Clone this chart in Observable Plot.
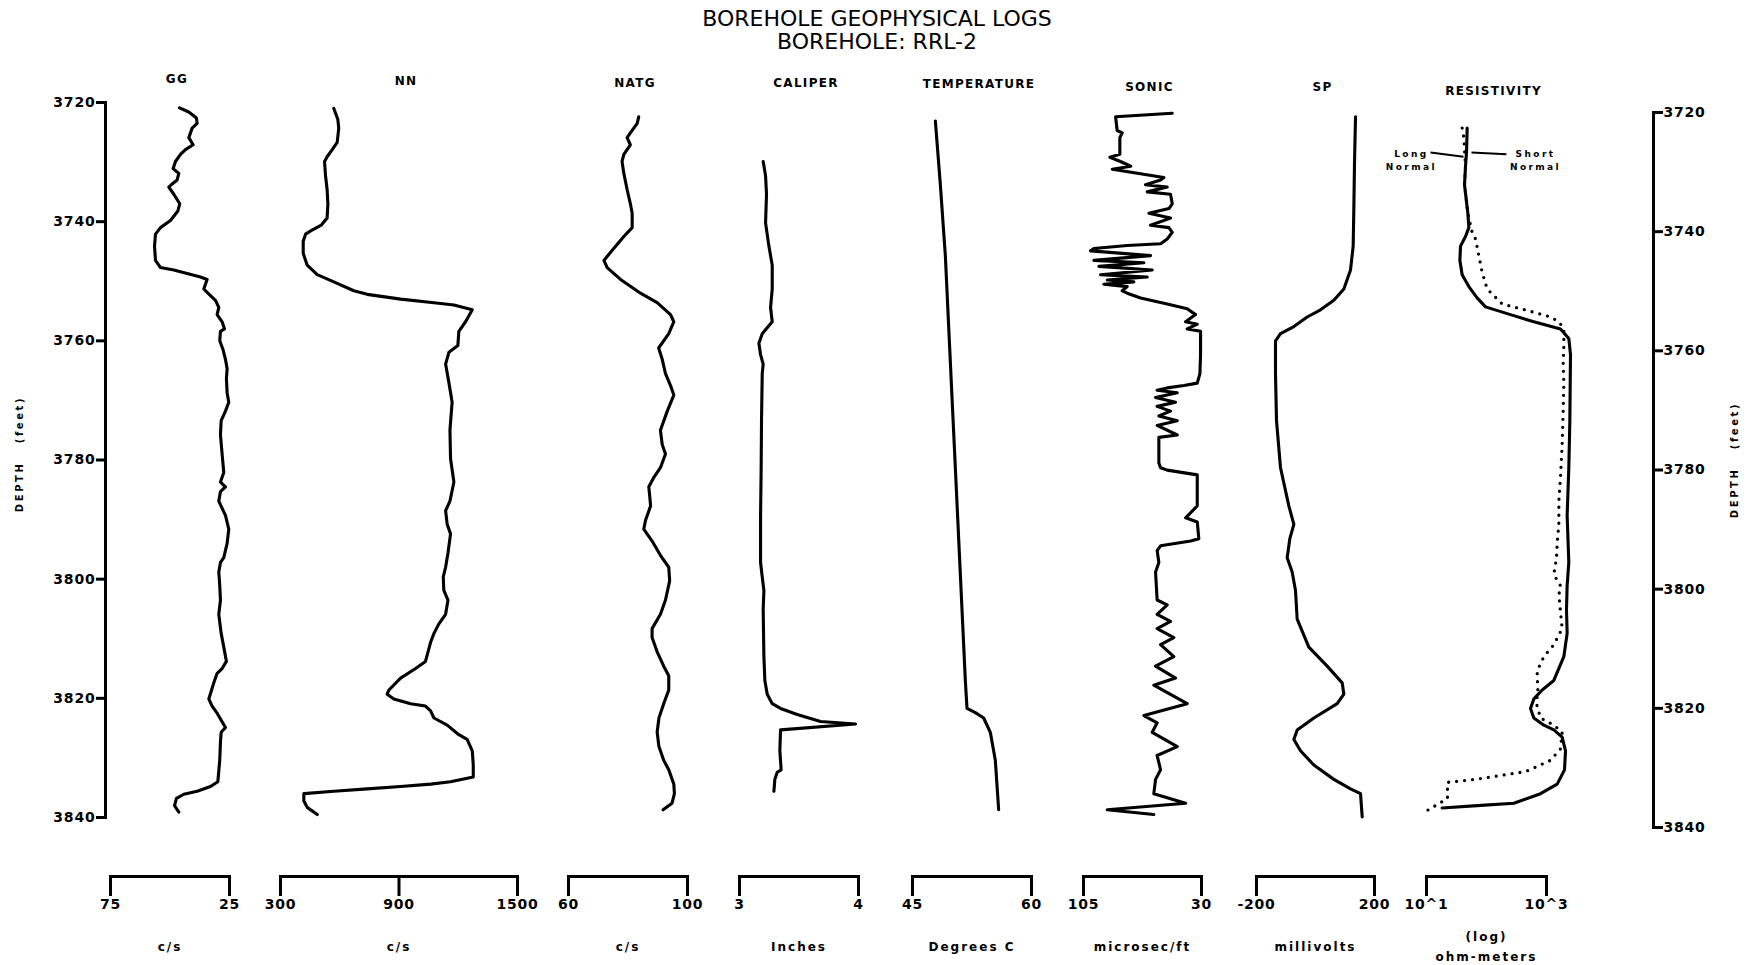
<!DOCTYPE html>
<html>
<head>
<meta charset="utf-8">
<script src="https://cdn.jsdelivr.net/npm/d3@7"></script>
<script src="https://cdn.jsdelivr.net/npm/@observablehq/plot@0.6"></script>
<style>
  body { margin: 0; background: #fff; }
  #chart { position: relative; width: 1754px; height: 965px; background: #fff; overflow: hidden; }
  .ttl { position: absolute; left: 0; width: 1754px; text-align: center; font-family: "DejaVu Sans", sans-serif;
         font-size: 22px; line-height: 22px; color: #000; white-space: pre; }
</style>
</head>
<body>
<div id="chart">
  <div class="ttl" style="top:8px">BOREHOLE GEOPHYSICAL LOGS</div>
  <div class="ttl" style="top:31px">BOREHOLE: RRL-2</div>
</div>
<script>
// ---------------- DATA (depth in feet, reading in track units) ----------------
const trackNames = ["GG", "NN", "NATG", "CALIPER", "TEMPERATURE", "SONIC", "SP", "RESISTIVITY"];
const trackUnits = ["c/s", "c/s", "c/s", "Inches", "Degrees C", "microsec/ft", "millivolts", "(log)\nohm-meters"];
const trackTicks = [[75, 25], [300, 900, 1500], [60, 100], [3, 4], [45, 60], [105, 30], [-200, 200], [10, 1000]];
const depthTicks = [3720, 3740, 3760, 3780, 3800, 3820, 3840];
const depthLabel = "DEPTH\u00a0\u00a0\u00a0(feet)";
const noteLabels = ["Long\nNormal", "Short\nNormal"];

const gg = [[3720.9,46.0],[3721.6,42.1],[3722.6,38.9],[3723.5,38.6],[3724.3,40.7],[3725.9,42.1],[3727.1,40.3],[3727.9,43.5],[3728.7,45.6],[3729.9,47.7],[3731.1,48.7],[3731.9,46.3],[3733.0,47.0],[3733.8,49.5],[3734.2,50.5],[3735.4,48.4],[3737.0,45.9],[3738.2,46.7],[3739.8,49.8],[3741.0,54.0],[3742.1,56.1],[3744.1,56.5],[3746.5,56.1],[3747.7,54.0],[3748.1,48.4],[3748.7,42.8],[3749.3,37.2],[3749.7,34.4],[3751.3,35.8],[3752.4,33.0],[3753.2,30.9],[3754.4,29.5],[3755.6,30.2],[3756.8,28.1],[3758.0,27.1],[3758.4,28.8],[3760.0,29.1],[3761.5,27.7],[3763.1,26.7],[3764.7,26.0],[3766.3,26.3],[3768.7,26.0],[3770.3,25.3],[3771.8,26.7],[3773.4,28.5],[3775.8,28.8],[3779.0,28.1],[3782.1,27.4],[3783.7,28.8],[3784.5,26.7],[3785.3,28.8],[3786.9,29.5],[3789.3,26.7],[3791.6,25.3],[3794.0,26.0],[3796.4,27.4],[3797.2,28.8],[3798.8,29.5],[3801.1,29.1],[3803.5,28.8],[3805.9,29.5],[3809.1,28.5],[3811.4,27.4],[3813.8,26.3],[3815.0,28.1],[3815.8,30.2],[3817.4,31.6],[3820.1,33.7],[3821.3,32.3],[3822.5,30.2],[3824.9,26.7],[3825.7,28.5],[3827.3,28.8],[3830.4,29.1],[3834.0,29.9],[3834.8,33.0],[3835.6,38.6],[3836.1,44.2],[3836.8,47.3],[3838.0,48.1],[3839.1,46.3]];

const nn = [[3721.0,570],[3722.8,590],[3724.3,595],[3726.7,587],[3727.9,562],[3729.1,536],[3729.9,523],[3732.3,528],[3734.6,536],[3737.0,540],[3739.4,536],[3740.6,506],[3741.4,460],[3742.1,427],[3743.3,415],[3745.3,415],[3747.3,435],[3748.9,486],[3750.1,570],[3751.6,671],[3752.2,739],[3753.0,908],[3753.6,1077],[3754.0,1178],[3754.8,1271],[3756.8,1237],[3758.4,1203],[3760.8,1198],[3761.9,1153],[3763.9,1136],[3767.1,1153],[3770.3,1169],[3775.0,1158],[3779.8,1161],[3783.7,1178],[3786.9,1158],[3788.5,1136],[3790.8,1144],[3792.4,1161],[3795.6,1148],[3798.0,1136],[3799.6,1124],[3801.9,1127],[3803.5,1148],[3805.9,1136],[3807.5,1102],[3809.1,1077],[3810.6,1060],[3813.8,1034],[3815.0,984],[3816.6,908],[3818.6,849],[3819.3,840],[3820.1,874],[3820.9,959],[3821.3,1034],[3822.1,1060],[3823.3,1077],[3824.5,1144],[3826.1,1203],[3826.9,1245],[3828.8,1271],[3831.2,1276],[3833.2,1276],[3834.0,1161],[3834.4,1060],[3834.8,908],[3835.2,739],[3835.6,570],[3836.0,418],[3837.2,418],[3838.3,435],[3839.5,486]];

const natg = [[3722.4,83.6],[3723.5,83.1],[3725.1,80.8],[3725.9,79.7],[3727.1,80.8],[3728.7,78.6],[3729.9,78.0],[3731.9,78.6],[3734.6,79.7],[3737.0,80.8],[3738.6,81.4],[3741.0,81.4],[3742.5,78.6],[3744.5,75.2],[3746.5,71.9],[3747.7,73.0],[3749.7,77.5],[3752.0,84.2],[3753.6,89.8],[3755.6,94.3],[3756.8,95.4],[3758.8,93.7],[3761.2,90.3],[3763.1,91.5],[3765.5,92.6],[3767.5,94.3],[3769.1,95.4],[3771.8,93.2],[3775.0,90.9],[3777.4,91.5],[3779.0,92.6],[3781.3,90.9],[3782.9,88.7],[3784.5,87.0],[3787.7,87.6],[3790.1,85.9],[3791.6,85.3],[3793.6,88.1],[3796.0,90.9],[3798.0,93.7],[3800.3,94.0],[3803.5,92.6],[3805.9,90.9],[3808.3,88.1],[3809.8,88.1],[3812.2,89.8],[3814.6,92.0],[3816.2,93.7],[3818.6,93.7],[3820.9,92.0],[3823.3,90.4],[3825.7,89.8],[3828.1,90.4],[3830.4,92.0],[3832.0,93.7],[3834.4,95.4],[3836.0,95.6],[3837.6,94.8],[3838.7,91.8]];

const caliper = [[3729.9,3.199],[3732.3,3.219],[3735.4,3.227],[3740.2,3.219],[3744.1,3.247],[3747.3,3.275],[3751.3,3.275],[3754.4,3.261],[3756.8,3.275],[3758.8,3.191],[3760.4,3.163],[3762.3,3.177],[3763.9,3.199],[3765.5,3.191],[3773.4,3.185],[3781.3,3.182],[3789.3,3.177],[3797.2,3.177],[3799.6,3.191],[3801.9,3.205],[3805.1,3.199],[3813.0,3.205],[3817.0,3.213],[3819.3,3.233],[3820.9,3.275],[3821.7,3.345],[3822.7,3.485],[3823.9,3.681],[3824.3,3.975],[3825.3,3.345],[3828.8,3.339],[3832.0,3.350],[3832.4,3.317],[3833.6,3.297],[3835.6,3.289]];

const temperature = [[3723.1,47.88],[3733.8,48.51],[3745.7,49.14],[3757.6,49.56],[3769.5,49.98],[3781.3,50.40],[3793.2,50.82],[3805.1,51.24],[3817.0,51.66],[3821.7,51.87],[3822.4,52.92],[3823.3,53.97],[3825.7,54.81],[3830.4,55.44],[3838.7,55.86]];

const sonic = [[3721.8,48.6],[3722.4,84.6],[3724.7,83.6],[3725.1,80.4],[3725.9,81.9],[3728.7,81.9],[3729.2,88.2],[3729.9,81.5],[3730.7,75.0],[3731.2,86.7],[3732.6,53.9],[3733.0,56.0],[3733.8,65.6],[3734.2,51.8],[3735.0,64.5],[3735.4,49.7],[3737.0,48.6],[3737.8,50.7],[3738.6,63.4],[3739.4,49.7],[3740.6,62.4],[3741.0,50.7],[3741.8,48.6],[3742.9,51.8],[3743.7,56.0],[3744.0,77.2],[3744.5,98.4],[3744.9,100.5],[3745.7,62.4],[3746.5,98.4],[3746.9,66.6],[3747.5,95.2],[3748.1,61.3],[3748.9,94.2],[3749.3,64.5],[3749.8,89.9],[3750.1,73.0],[3750.5,92.1],[3750.9,77.2],[3751.6,80.4],[3752.0,77.2],[3752.8,68.7],[3753.8,51.8],[3754.6,39.1],[3755.6,33.8],[3756.8,40.1],[3757.2,32.7],[3758.0,39.1],[3758.4,30.6],[3762.3,30.6],[3765.5,31.0],[3767.1,32.7],[3767.5,41.2],[3767.9,51.8],[3768.3,58.2],[3768.7,45.4],[3769.5,59.2],[3770.3,46.5],[3771.0,58.2],[3771.8,49.7],[3772.6,57.1],[3773.4,45.4],[3774.2,58.2],[3775.8,45.4],[3776.2,57.1],[3780.5,57.1],[3781.3,56.0],[3781.7,51.8],[3782.5,32.7],[3787.7,32.7],[3789.7,40.1],[3790.4,32.7],[3793.2,31.7],[3793.6,36.9],[3794.4,56.0],[3795.2,58.2],[3797.2,57.1],[3798.8,59.2],[3803.5,58.2],[3804.3,51.8],[3805.9,58.2],[3807.1,49.7],[3808.3,58.2],[3809.8,47.6],[3811.0,56.0],[3813.0,47.6],[3814.6,59.2],[3816.6,46.5],[3817.8,60.3],[3820.9,39.1],[3822.9,66.6],[3824.1,58.2],[3825.7,61.3],[3828.1,45.4],[3829.6,58.2],[3832.0,56.0],[3833.6,59.2],[3836.0,60.3],[3837.6,40.1],[3838.7,89.9],[3839.5,60.3]];

const sp = [[3722.4,135.7],[3729.9,132.3],[3737.8,130.0],[3744.1,127.7],[3748.1,118.7],[3751.3,96.1],[3753.2,62.2],[3754.8,17.0],[3756.0,-28.2],[3757.6,-73.4],[3758.8,-118.6],[3760.0,-135.6],[3765.5,-135.6],[3773.4,-132.2],[3781.3,-118.6],[3787.7,-90.4],[3790.8,-73.4],[3793.2,-87.0],[3796.4,-96.0],[3798.8,-79.1],[3801.9,-67.8],[3806.7,-62.1],[3811.4,-22.6],[3814.6,39.6],[3817.4,90.5],[3819.3,96.1],[3820.9,73.5],[3823.3,-5.6],[3825.3,-62.1],[3826.9,-73.4],[3828.8,-50.8],[3831.2,-5.6],[3833.6,62.2],[3835.2,118.7],[3836.0,152.6],[3839.9,158.3]];

const resLong = [[3724.3,47.6],[3728.3,46.5],[3730.7,44.7],[3733.8,43.0],[3738.6,48.9],[3741.0,50.8],[3742.5,44.7],[3744.1,36.9],[3746.5,36.0],[3748.9,39.3],[3750.9,50.8],[3752.8,69.8],[3754.3,96.2],[3755.6,251],[3756.8,615],[3758.0,1710],[3759.6,2355],[3762.3,2512],[3773.4,2449],[3781.3,2355],[3789.3,2208],[3797.2,2355],[3801.1,2208],[3805.1,2153],[3809.1,2208],[3813.0,1945],[3817.0,1324],[3818.6,847],[3820.1,615],[3821.7,541],[3823.3,615],[3824.5,904],[3825.3,1324],[3826.5,1824],[3828.8,2075],[3832.0,1995],[3834.4,1507],[3836.0,794],[3837.6,286],[3838.0,69.8],[3838.4,18.2]];

const resShort = [[3724.3,39.3],[3725.9,41.9],[3730.7,44.7],[3733.8,43.0],[3738.6,48.9],[3741.8,57.7],[3742.9,65.6],[3745.7,74.5],[3748.5,84.7],[3751.3,102.6],[3753.8,182],[3754.6,369],[3755.2,615],[3756.0,1166],[3756.8,1607],[3758.0,1945],[3760.8,1945],[3763.9,1897],[3767.1,1945],[3771.8,1897],[3777.4,1824],[3782.9,1710],[3786.9,1607],[3790.8,1607],[3794.0,1507],[3796.4,1469],[3799.2,1324],[3801.1,1710],[3802.7,1607],[3808.3,1824],[3811.0,1324],[3813.0,904],[3815.4,698],[3818.6,717],[3820.9,681],[3823.3,794],[3824.5,1324],[3825.7,1824],[3828.5,1710],[3830.4,1166],[3831.4,708],[3832.3,447],[3833.6,65.6],[3834.1,22.4],[3836.8,22.4],[3839.3,8.6]];

const trackData = [gg, nn, natg, caliper, temperature, sonic, sp, resLong];

// ---------------- LAYOUT (pixels / styles, kept apart from the data) ----------------
const H = 965, FRAME_TOP = 102, DEPTH_BOTTOM = 817, BAR_Y = 876;
const trackLeft  = [110, 280, 568, 739, 912, 1083, 1256, 1426];
const trackWidth = [119, 237, 119, 119, 119, 118, 118, 120];
const titleY     = [79, 81, 83, 83, 84, 87, 87, 91];
const SIDE = 26;
// annotation anchors for the resistivity legend (resistivity, depth)
const noteAnchor = [{r: 5.6, d: 3729.5}, {r: 656, d: 3729.5}];
const noteLeader = [{r1: 11.7, d1: 3728.4, r2: 41.4, d2: 3729.1}, {r1: 56.2, d1: 3728.4, r2: 215, d2: 3728.7}];

const chart = document.getElementById("chart");
const baseStyle = {background: "transparent", overflow: "visible", fontFamily: "DejaVu Sans, sans-serif",
  fontWeight: "bold", fontSize: "14px", color: "black", maxWidth: "none"};
const lineOpts = {x: d => d[1], y: d => d[0], stroke: "black", strokeWidth: 3.1,
  strokeLinejoin: "round", strokeLinecap: "round", curve: "linear"};

function place(svg, left, top) {
  const d = document.createElement("div");
  d.style.cssText = `position:absolute;left:${left}px;top:${top}px;`;
  d.appendChild(svg);
  chart.appendChild(d);
}
function spacing(svg, spacings, tickSpacing) {
  svg.querySelectorAll('g[aria-label="text"]').forEach((g, j) => {
    if (spacings[j] != null) g.style.letterSpacing = spacings[j];
  });
  svg.querySelectorAll('g[aria-label$="tick label"]').forEach(g => g.style.letterSpacing = tickSpacing);
}

trackNames.forEach((name, i) => {
  const ticks = trackTicks[i];
  const isLog = i === 7;
  const marks = [
    Plot.frame({anchor: "bottom", strokeWidth: 3}),
    Plot.axisX({anchor: "bottom", ticks, tickSize: 20, tickPadding: 3, strokeWidth: 3, label: null,
      tickFormat: isLog ? d => "10^" + Math.round(Math.log10(d)) : d => String(d)}),
    Plot.text([name], {frameAnchor: "top", dx: 7, dy: titleY[i] - FRAME_TOP, lineAnchor: "middle",
      fontSize: 12, fontWeight: "bold"}),
    Plot.text([trackUnits[i]], {frameAnchor: "bottom", dy: 68, lineAnchor: "middle",
      fontSize: 12, fontWeight: "bold", lineHeight: 1.65}),
    Plot.line(trackData[i], lineOpts)
  ];
  if (isLog) {
    marks.push(Plot.line(resShort, {...lineOpts, strokeWidth: 3.3, strokeDasharray: "0,8"}));
    marks.push(Plot.text(noteLabels, {x: (d, k) => noteAnchor[k].r, y: (d, k) => noteAnchor[k].d,
      text: d => d, textAnchor: "middle", lineAnchor: "middle", fontSize: 9, fontWeight: "bold", lineHeight: 1.45}));
    marks.push(Plot.link(noteLeader, {x1: "r1", y1: "d1", x2: "r2", y2: "d2", stroke: "black", strokeWidth: 2}));
  }
  const svg = Plot.plot({
    width: trackWidth[i] + 2 * SIDE, height: H,
    marginTop: FRAME_TOP, marginBottom: H - BAR_Y, marginLeft: SIDE, marginRight: SIDE,
    x: {type: isLog ? "log" : "linear", domain: [ticks[0], ticks[ticks.length - 1]], axis: null},
    y: {domain: [3720, 3840], reverse: true, insetBottom: BAR_Y - DEPTH_BOTTOM, axis: null},
    style: baseStyle,
    marks
  });
  spacing(svg, ["1.3px", "2px", "2.4px"], "0.8px");
  place(svg, trackLeft[i] - SIDE, 0);
});

// left depth axis
{
  const svg = Plot.plot({
    width: 112, height: H, marginTop: FRAME_TOP, marginBottom: H - DEPTH_BOTTOM, marginLeft: 105, marginRight: 7,
    y: {domain: [3720, 3840], reverse: true, axis: null},
    style: baseStyle,
    marks: [
      Plot.frame({anchor: "left", strokeWidth: 3}),
      Plot.axisY({anchor: "left", ticks: depthTicks, tickSize: 9, tickPadding: 1, strokeWidth: 3,
        label: null, tickFormat: d => String(d)}),
      Plot.text([depthLabel], {frameAnchor: "left", rotate: -90, dx: -86, dy: -6,
        textAnchor: "middle", lineAnchor: "middle", fontSize: 10, fontWeight: "bold"})
    ]
  });
  spacing(svg, ["2.6px"], "0.8px");
  place(svg, 0, 0);
}
// right depth axis (slightly lower in the scanned original)
{
  const svg = Plot.plot({
    width: 102, height: H, marginTop: FRAME_TOP, marginBottom: H - DEPTH_BOTTOM, marginLeft: 0, marginRight: 101,
    y: {domain: [3720, 3840], reverse: true, axis: null},
    style: baseStyle,
    marks: [
      Plot.frame({anchor: "right", strokeWidth: 3}),
      Plot.axisY({anchor: "right", ticks: depthTicks, tickSize: 9, tickPadding: 1, strokeWidth: 3,
        label: null, tickFormat: d => String(d)}),
      Plot.text([depthLabel], {frameAnchor: "right", rotate: -90, dx: 81, dy: -10,
        textAnchor: "middle", lineAnchor: "middle", fontSize: 10, fontWeight: "bold"})
    ]
  });
  spacing(svg, ["2.6px"], "0.8px");
  place(svg, 1652, 10);
}
</script>
</body>
</html>
